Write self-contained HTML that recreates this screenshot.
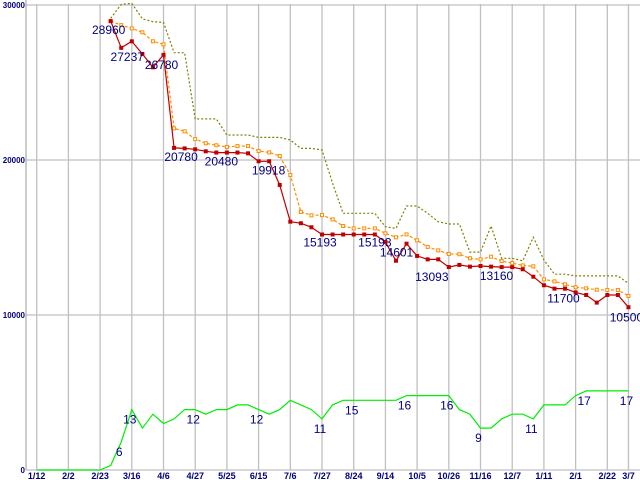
<!DOCTYPE html>
<html><head><meta charset="utf-8"><style>
html,body{margin:0;padding:0;background:#fff;width:640px;height:480px;overflow:hidden}
svg{display:block;font-family:"Liberation Sans",sans-serif}
</style></head><body>
<svg id="chart" width="640" height="480" xmlns="http://www.w3.org/2000/svg"></svg>
<script>
const xTickLabels=["1/12","2/2","2/23","3/16","4/6","4/27","5/25","6/15","7/6","7/27","8/24","9/14","10/5","10/26","11/16","12/7","1/11","2/1","2/22","3/7"];
const xTickIdx=[0,3,6,9,12,15,18,21,24,27,30,33,36,39,42,45,48,51,54,56];
const yTicks=[0,10000,20000,30000];
const startIdx=7;
const lowPrice=[28960,27237,27656,26840,25980,26780,20780,20750,20690,20560,20480,20480,20480,20430,19918,19918,18390,16020,15920,15660,15193,15193,15193,15193,15193,15193,14710,13500,14601,13810,13590,13590,13093,13230,13120,13160,13120,13090,13090,12950,12470,11920,11700,11700,11460,11290,10800,11290,11290,10500];
const avgPrice=[28960,28700,28490,28240,27660,27460,22040,21850,21350,21080,20950,20840,20900,20900,20580,20490,20260,19030,16650,16430,16450,16170,15740,15590,15590,15590,15270,15010,15200,14820,14390,14170,13940,13920,13660,13590,13760,13480,13350,13200,13140,12300,12170,11980,11790,11720,11630,11610,11610,11230];
const maxPrice=[29140,30040,30100,29100,28920,28880,26920,26920,22650,22650,22650,21610,21610,21610,21460,21460,21460,21290,20750,20750,20650,18500,16560,16560,16560,16560,15700,15590,17030,17030,16560,16020,15870,15870,14060,14060,15740,13660,13660,13500,15010,13550,12630,12630,12520,12520,12520,12520,12520,12040];
const shopCount=[0,0,0,0,0,0,0,1,6,13,9,12,10,11,13,13,12,13,13,14,14,13,12,13,15,14,13,11,14,15,15,15,15,15,15,16,16,16,16,16,13,12,9,9,11,12,12,11,14,14,14,16,17,17,17,17,17];
const priceLabels=[[7,"28960"],[8,"27237"],[12,"26780"],[13,"20780"],[17,"20480"],[21,"19918"],[27,"15193"],[32,"15193"],[35,"14601"],[39,"13093"],[42,"13160"],[49,"11700"],[56,"10500"]];
const priceLabelOff=[[-2,13],[6,13],[-2,14],[7,13],[5,13],[10,13],[-2,12],[0,12],[-10,13],[-17,14],[16,14],[9,14],[-2,14]];
const countLabels=[[8,"6"],[9,"13"],[15,"12"],[21,"12"],[27,"11"],[30,"15"],[35,"16"],[39,"16"],[42,"9"],[47,"11"],[52,"17"],[56,"17"]];

const X0=36.7,DX=10.567,Y0=470,KY=0.0155,CNT=300;
const xs=i=>X0+i*DX, ys=v=>Y0-v*KY;
const NS="http://www.w3.org/2000/svg",svg=document.getElementById('chart');
function mk(t,a){const e=document.createElementNS(NS,t);for(const k in a)e.setAttribute(k,a[k]);svg.appendChild(e);return e;}
xTickIdx.forEach((ix,j)=>{
 const l=mk('line',{x1:xs(ix),x2:xs(ix),y1:4,y2:470,stroke:'#c0c0c0','stroke-width':1.3});
 
 
 const t=mk('text',{x:xs(ix),y:479,'font-size':9,'font-weight':'bold',fill:'#000080','text-anchor':'middle'});
 t.textContent=xTickLabels[j];
 
 
});
yTicks.forEach(v=>{
 const l=mk('line',{x1:26,x2:640,y1:ys(v),y2:ys(v),stroke:'#c0c0c0','stroke-width':1.3});
 
 
 const t=mk('text',{x:25,y:ys(v)+3,'font-size':8,'font-weight':'bold',fill:'#000080','text-anchor':'end'});
 t.textContent=String(v);
 
 
});
const ax=mk('line',{x1:26,x2:26,y1:0,y2:470,stroke:'#b0b0b0','stroke-width':1.3});


function series(arr,off,color,dash,name,marker){
 const pts=arr.map((v,i)=>xs(i+off).toFixed(1)+','+ys(v).toFixed(1)).join(' ');
 const p=mk('polyline',{points:pts,fill:'none',stroke:color,'stroke-width':1.2,'stroke-dasharray':dash});
 
 
 if(marker)arr.forEach((v,i)=>{
  const r=mk('rect',{x:xs(i+off)-1.5,y:ys(v)-1.5,width:3,height:3,fill:marker==='fill'?color:'#fff',stroke:color,'stroke-width':1});
  
  
 });
}
series(shopCount.map(c=>c*CNT),0,'#00ee00','',"shop-count-line",null);
series(maxPrice,startIdx,'#808000','2,2',"max-price-line",null);
series(avgPrice,startIdx,'#ff8c00','3,2',"avg-price-line",'hollow');
series(lowPrice,startIdx,'#c00000','',"low-price-line",'fill');
priceLabels.forEach((d,j)=>{
 const v=lowPrice[d[0]-startIdx];
 const t=mk('text',{x:xs(d[0])+priceLabelOff[j][0],y:ys(v)+priceLabelOff[j][1],'font-size':12,fill:'#000080','text-anchor':'middle'});
 t.textContent=d[1];
 
 
});
countLabels.forEach(d=>{
 const v=shopCount[d[0]]*CNT;
 const t=mk('text',{x:xs(d[0])-2,y:ys(v)+14,'font-size':12,fill:'#000080','text-anchor':'middle'});
 t.textContent=d[1];
 
 
});
</script>
</body></html>
